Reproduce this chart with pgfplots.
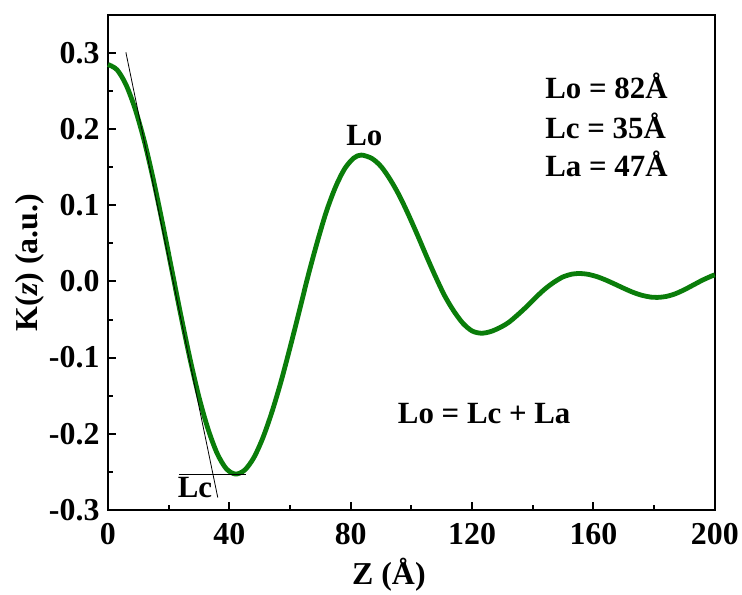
\documentclass[border=0pt]{standalone}
\usepackage{pgfplots}
\pgfplotsset{compat=1.18}
\usepackage{fontspec}
\setmainfont{Liberation Serif}
\definecolor{curve}{RGB}{10,125,10}
\begin{document}
\begin{tikzpicture}
\begin{axis}[
  scale only axis,
  width=607bp, height=495bp,
  xmin=0, xmax=200, ymin=-0.3, ymax=0.35,
  xtick={0,40,80,120,160,200},
  ytick={-0.3,-0.2,-0.1,0,0.1,0.2,0.3},
  minor x tick num=1, minor y tick num=1,
  tick pos=left, tick align=inside,
  major tick length=8bp, minor tick length=5bp,
  axis line style={line width=2.4bp},
  every tick/.style={line width=2bp, black},
  /pgf/number format/assume math mode=true,
  ticklabel style={font=\fontsize{32}{37}\selectfont\bfseries},
  yticklabel style={/pgf/number format/.cd, fixed, fixed zerofill, precision=1, /tikz/.cd, xshift=-5bp},
  xticklabel style={/pgf/number format/.cd, fixed, /tikz/.cd, yshift=-10bp},
  scaled y ticks=false,
  xlabel={Z (Å)},
  ylabel={K(\textit{z}) (a.u.)},
  label style={font=\fontsize{32}{38}\selectfont\bfseries},
  xlabel style={at={(axis description cs:0.463,-0.131)}, anchor=center},
  ylabel style={yshift=-2bp},
  clip=false,
]
\addplot[curve, line width=4.8bp, smooth] coordinates {
(0,0.285) (3,0.278) (6,0.258) (9,0.226) (12,0.184) (15,0.133) (18,0.076)
(21,0.016) (24,-0.044) (27,-0.101) (30,-0.152) (33,-0.194) (36,-0.226)
(39,-0.246) (42,-0.253) (45,-0.248) (48,-0.232) (51,-0.206) (54,-0.172)
(57,-0.132) (60,-0.087) (63,-0.040) (66,0.008) (69,0.052) (72,0.092)
(75,0.124) (78,0.148) (81,0.162) (83.5,0.166) (87,0.1615) (90,0.151)
(93,0.134) (96,0.113) (99,0.088) (102,0.061) (105,0.033) (108,0.006)
(111,-0.019) (114,-0.039) (117,-0.055) (120,-0.065) (123,-0.068)
(126,-0.066) (129,-0.061) (132,-0.054) (135,-0.044) (138,-0.033)
(141,-0.021) (144,-0.010) (147,-0.001) (150,0.006) (153,0.0097)
(155,0.0105) (158,0.0095) (161,0.0065) (164,0.0020) (167,-0.0034)
(170,-0.0090) (173,-0.0142) (176,-0.0182) (179,-0.0206) (181,-0.021)
(184,-0.0197) (187,-0.0162) (190,-0.0108) (193,-0.0045) (196,0.0018)
(199,0.0072) (200,0.0086)
};
\addplot[black, line width=0.8bp] coordinates {(5.9,0.301) (36.2,-0.284)};
\addplot[black, line width=1bp] coordinates {(23.4,-0.253) (45.5,-0.253)};
\node[font=\fontsize{31}{36}\selectfont\bfseries] at (axis cs:28.7,-0.271) {Lc};
\node[font=\fontsize{31}{36}\selectfont\bfseries] at (axis cs:84.5,0.191) {Lo};
\node[font=\fontsize{31}{36}\selectfont\bfseries, anchor=west] at (axis cs:143,0.257) {Lo = 82Å};
\node[font=\fontsize{31}{36}\selectfont\bfseries, anchor=west] at (axis cs:143,0.205) {Lc = 35Å};
\node[font=\fontsize{31}{36}\selectfont\bfseries, anchor=west] at (axis cs:143,0.155) {La = 47Å};
\node[font=\fontsize{31}{36}\selectfont\bfseries] at (axis cs:124,-0.174) {Lo = Lc + La};
\end{axis}
\path ([shift={(-108bp,-84bp)}]current axis.south west) rectangle ([shift={(27bp,15bp)}]current axis.north east);
\end{tikzpicture}
\end{document}
